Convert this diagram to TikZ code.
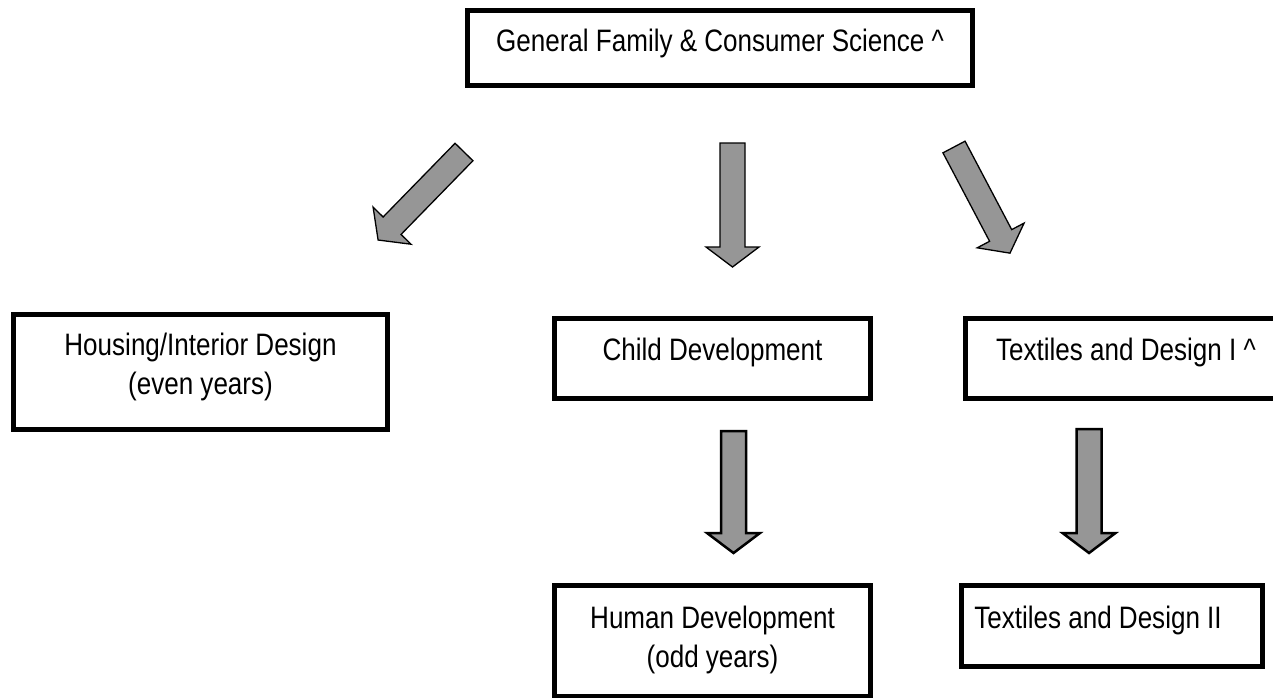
\documentclass[tikz,border=0pt]{standalone}
\usepackage{fontspec}
\setmainfont{Liberation Sans}[FakeStretch=0.84]
\definecolor{arrowgray}{RGB}{150,150,150}
\begin{document}
\begin{tikzpicture}[x=1pt,y=-1pt,
  box/.style={draw=black, line width=5pt, fill=white, rectangle, inner sep=0pt},
  lbl/.style={font=\fontsize{31}{39}\selectfont, inner sep=0pt, anchor=base},
  barrowstyle/.style={draw=black, fill=arrowgray, line width=1.3pt, line join=miter},
  thickarrow/.style={barrowstyle, line width=2.5pt},
  pics/barrow/.style args={#1/#2}{code={
    \draw[#2] (-12.5,0) -- (12.5,0) -- (12.5,{#1-20}) -- (26.5,{#1-20}) -- (0,#1)
      -- (-26.5,{#1-20}) -- (-12.5,{#1-20}) -- cycle;}}
]
\useasboundingbox (0,0) rectangle (1273,698);
\clip (0,0) rectangle (1273,698);
\fill[white] (0,0) rectangle (1273,698);

% boxes
\node[box, minimum width=505pt, minimum height=75pt] (top) at (720,48) {};
\node[box, minimum width=374pt, minimum height=115pt] (housing) at (200.5,372) {};
\node[box, minimum width=316pt, minimum height=80pt] (child) at (712.5,358.5) {};
\node[box, minimum width=322pt, minimum height=80pt] (tex1) at (1126.5,358.5) {};
\node[box, minimum width=316pt, minimum height=111pt] (human) at (712.5,641) {};
\node[box, minimum width=301pt, minimum height=81pt] (tex2) at (1112,626) {};

% labels
\node[lbl] (top-t) at (720,52) {General Family \& Consumer Science \textasciicircum};
\node[lbl] (housing-t1) at (200.5,355) {Housing/Interior Design};
\node[lbl] (housing-t2) at (200.5,394) {(even years)};
\node[lbl] (child-t) at (712.5,360) {Child Development};
\node[lbl] (tex1-t) at (1126,360) {Textiles and Design I \textasciicircum};
\node[lbl] (human-t1) at (712.5,628) {Human Development};
\node[lbl] (human-t2) at (712.5,667) {(odd years)};
\node[lbl] (tex2-t) at (1098,628) {Textiles and Design II};

% block arrows
\coordinate (a1) at (464,152);
\coordinate (a2) at (732.5,143);
\coordinate (a3) at (954,147);
\coordinate (a4) at (733.5,431);
\coordinate (a5) at (1089,429);
\pic[rotate=-44.3] at (a1) {barrow={123/barrowstyle}};
\pic at (a2) {barrow={124/barrowstyle}};
\pic[rotate=27.8] at (a3) {barrow={120/barrowstyle}};
\pic at (a4) {barrow={122/thickarrow}};
\pic at (a5) {barrow={124/thickarrow}};
\end{tikzpicture}
\end{document}
